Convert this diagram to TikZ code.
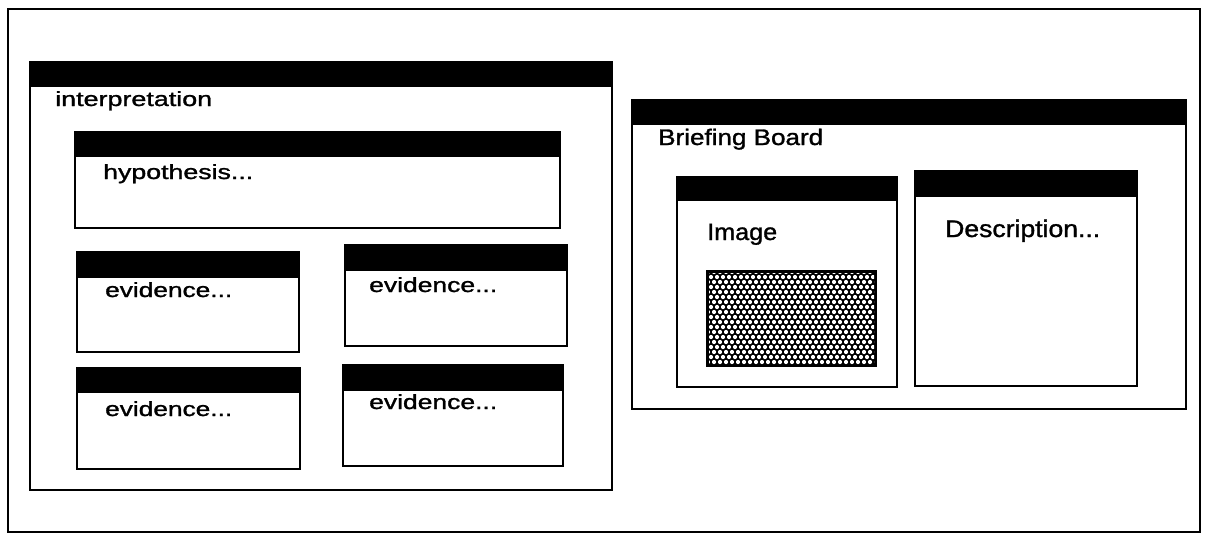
\documentclass[tikz,border=0pt]{standalone}
\usepackage{fontspec}
\setmainfont{Liberation Sans}[FakeBold=1.2]
\newcommand\mywin[5]{%
  \fill[black] (#1,#3) rectangle (#2,#4);
  \draw[winline] (#1,#3) rectangle (#2,#5);}
\begin{document}
\begin{tikzpicture}[x=1pt,y=-1pt,
  winline/.style={line width=2.8pt,line join=miter},
  lbl/.style={anchor=base west,inner sep=0pt,text=black}]
\fill[white] (0,0) rectangle (1206,539);
\useasboundingbox (0,0) rectangle (1206,539);
% outer frame
\draw[line width=2.4pt] (8,9) rectangle (1200,532);
% interpretation window
\mywin{30}{612}{62}{87}{490}
\node[lbl,font=\fontsize{20.5}{24}\selectfont] (interp) at (55,106) {\resizebox{157pt}{\height}{interpretation}};
% hypothesis
\mywin{75}{560}{132}{157}{228}
\node[lbl,font=\fontsize{20.5}{24}\selectfont] (hyp) at (103,179) {\resizebox{150pt}{\height}{hypothesis...}};
% evidence windows
\mywin{77}{299}{252}{278}{352}
\node[lbl,font=\fontsize{20.5}{24}\selectfont] (ev1) at (105,297) {\resizebox{127pt}{\height}{evidence...}};
\mywin{345}{567}{245}{271}{346}
\node[lbl,font=\fontsize{20.5}{24}\selectfont] (ev2) at (369,292) {\resizebox{128pt}{\height}{evidence...}};
\mywin{77}{300}{368}{393}{469}
\node[lbl,font=\fontsize{20.5}{24}\selectfont] (ev3) at (105,416) {\resizebox{127pt}{\height}{evidence...}};
\mywin{343}{563}{365}{391}{466}
\node[lbl,font=\fontsize{20.5}{24}\selectfont] (ev4) at (369,409) {\resizebox{128pt}{\height}{evidence...}};
% briefing board
\mywin{632}{1186}{100}{125}{409}
\node[lbl,font=\fontsize{22.5}{26}\selectfont] (bb) at (658,145) {\resizebox{165pt}{\height}{Briefing Board}};
% image window
\mywin{677}{897}{177}{201}{387}
\node[lbl,font=\fontsize{23.5}{28}\selectfont] (img) at (707,240) {\resizebox{70pt}{\height}{Image}};
\fill[black] (706,270) rectangle (877,367);
\begin{scope}
  \clip (709,273) rectangle (874,364);
  \foreach \i in {0,...,29} {
    \foreach \j in {0,...,10} {
      \fill[white] (708+\i*6,272+\j*10) circle (2.1pt);
      \fill[white] (711+\i*6,277+\j*10) circle (2.1pt);
    }
  }
\end{scope}
% description window
\mywin{915}{1137}{171}{197}{386}
\node[lbl,font=\fontsize{24}{28}\selectfont] (desc) at (945,237) {\resizebox{155pt}{\height}{Description...}};
\end{tikzpicture}
\end{document}
